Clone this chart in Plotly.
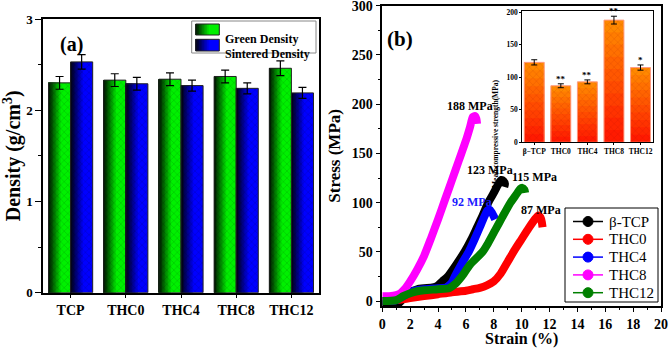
import plotly.graph_objects as go

# ---------------- data: panel (a) ----------------
samples = ["TCP", "THC0", "THC4", "THC8", "THC12"]
green_density = [2.30, 2.33, 2.34, 2.37, 2.46]
green_err = [0.07, 0.07, 0.07, 0.07, 0.08]
sintered_density = [2.53, 2.29, 2.27, 2.24, 2.19]
sintered_err = [0.08, 0.07, 0.06, 0.06, 0.06]

# ---------------- data: panel (b) stress-strain ----------------
tcp_strain = [0.0, 0.6, 1.2, 1.6, 2.0, 2.5, 3.0, 3.5, 3.9, 4.3, 4.7, 5.3, 5.9, 6.4, 6.8, 7.2, 7.6, 8.0, 8.3, 8.55, 8.7, 8.8, 8.75]
tcp_stress = [-1, -2, -2, 4, 9, 12, 13, 13.5, 15, 20, 25, 37, 50, 63, 75, 87, 100, 110, 118, 123, 122, 119, 116]

thc0_strain = [0, 1, 2, 3, 4, 5, 6, 6.5, 7, 7.5, 8, 8.5, 9, 9.5, 10, 10.5, 11.0, 11.2, 11.35, 11.45, 11.5]
thc0_stress = [0, 1, 3, 5, 7, 9, 10.5, 12, 13.5, 16, 20, 28, 40, 52, 63, 74, 84, 87, 85, 80, 75]

thc4_strain = [0, 1.0, 1.5, 2.0, 2.5, 3.0, 4.0, 4.6, 5.0, 5.2, 5.7, 6.2, 6.6, 7.0, 7.3, 7.55, 7.7, 7.85, 8.0, 8.1]
thc4_stress = [0, 1, 5, 9, 11, 12, 13, 14, 19, 25, 38, 50, 62, 75, 85, 92, 93, 90, 86, 83]

thc8_strain = [0, 0.5, 1.0, 1.3, 1.6, 2.0, 2.5, 3.0, 3.5, 4.0, 4.5, 5.0, 5.5, 6.0, 6.3, 6.5, 6.65, 6.75, 6.8]
thc8_stress = [5, 5, 6, 8, 12, 20, 32, 46, 64, 83, 103, 123, 143, 163, 177, 187, 188, 185, 180]

thc12_strain = [0, 1.0, 1.5, 2.0, 2.5, 3.0, 4.0, 4.8, 5.2, 5.7, 6.3, 7.2, 7.6, 8.1, 8.6, 9.2, 9.6, 9.9, 10.05, 10.2, 10.25]
thc12_stress = [0, 1, 5, 8, 10, 11, 12, 13, 17, 25, 37, 50, 59, 72, 85, 100, 108, 114, 115, 113, 110]

curve_names = ["β-TCP", "THC0", "THC4", "THC8", "THC12"]
curve_colors = ["#000000", "#FF0000", "#0000FF", "#FF00FF", "#008000"]
peak_labels = ["123 MPa", "87 MPa", "92 MPa", "188 MPa", "115 MPa"]
peak_label_x = [7.75, 11.4, 6.45, 6.3, 10.95]
peak_label_y = [133, 93, 101, 198, 126]
peak_label_colors = ["#000000", "#000000", "#1A1AFF", "#000000", "#000000"]

# ---------------- data: inset ----------------
inset_labels = ["β−TCP", "THC0", "THC4", "THC8", "THC12"]
inset_strength = [123, 87, 93, 188, 115]
inset_err = [4, 3, 3, 6, 4]
inset_sig = ["", "**", "**", "**", "*"]

FONT = "Liberation Serif"
W, H = 669, 348


def X(px):
    return px / W


def Y(py):
    return 1 - py / H


def hex2rgb(h):
    h = h.lstrip("#")
    return tuple(int(h[i:i + 2], 16) for i in (0, 2, 4))


def mix(c1, c2, t):
    a, b = hex2rgb(c1), hex2rgb(c2)
    return "rgb(%d,%d,%d)" % tuple(round(a[i] + (b[i] - a[i]) * t) for i in range(3))


fig = go.Figure()

# ---------------- panel (a) bars with horizontal gradient ----------------
N = 8
for vals, errs, off, bright, dark in [
    (green_density, green_err, -0.4, "#00F000", "#002000"),
    (sintered_density, sintered_err, 0.0, "#0000FF", "#00001E"),
]:
    fig.add_trace(go.Bar(x=samples, y=vals, offset=off, width=0.4, marker=dict(color=bright, line=dict(width=0)),
                         xaxis="x", yaxis="y", showlegend=False, hoverinfo="skip"))
    for i in range(N):
        f = 0.55 * (1 - i / N)
        fig.add_trace(go.Bar(x=samples, y=vals, offset=off, width=0.4 * f,
                             marker=dict(color=mix(bright, dark, (i + 1) / N), line=dict(width=0)),
                             xaxis="x", yaxis="y", showlegend=False, hoverinfo="skip"))
    fig.add_trace(go.Bar(x=samples, y=vals, offset=off, width=0.4,
                         marker=dict(color="rgba(0,0,0,0)", line=dict(color="#222222", width=1),
                                     pattern=dict(shape="x", fgcolor="rgba(0,0,0,0.35)", size=5, solidity=0.12)),
                         error_y=dict(type="data", array=errs, color="#000000", thickness=1.2, width=4),
                         xaxis="x", yaxis="y", showlegend=False, hoverinfo="skip"))

# ---------------- panel (b) curves ----------------
curves = [(tcp_strain, tcp_stress), (thc0_strain, thc0_stress), (thc4_strain, thc4_stress),
          (thc8_strain, thc8_stress), (thc12_strain, thc12_stress)]
for (sx, sy), name, col in zip(curves, curve_names, curve_colors):
    fig.add_trace(go.Scatter(x=sx, y=sy, mode="lines", name=name,
                             line=dict(color=col, width=8, shape="spline", smoothing=0.6),
                             xaxis="x2", yaxis="y2", showlegend=False, hoverinfo="skip"))

# ---------------- inset bars with vertical gradient ----------------
M = 10
top_col, bot_col = "#FF8800", "#FF1A00"
for j in range(M):
    frac = 1 - j / M
    fig.add_trace(go.Bar(x=inset_labels, y=[v * frac for v in inset_strength], width=0.75,
                         marker=dict(color=mix(top_col, bot_col, j / (M - 1)), line=dict(width=0)),
                         xaxis="x3", yaxis="y3", showlegend=False, hoverinfo="skip"))
fig.add_trace(go.Bar(x=inset_labels, y=inset_strength, width=0.75,
                     marker=dict(color="rgba(0,0,0,0)", line=dict(color="#FF9A80", width=1),
                                 pattern=dict(shape="x", fgcolor="rgba(140,0,0,0.3)", size=5, solidity=0.12)),
                     error_y=dict(type="data", array=inset_err, color="#000000", thickness=1, width=3),
                     xaxis="x3", yaxis="y3", showlegend=False, hoverinfo="skip"))

annotations = []
for lab, v, e, s in zip(inset_labels, inset_strength, inset_err, inset_sig):
    if s:
        annotations.append(dict(x=lab, y=v + e, xref="x3", yref="y3", text=s, showarrow=False, yanchor="bottom",
                                yshift=-2, font=dict(family=FONT, size=9, color="#000", weight="bold")))

for t, xx, yy, c in zip(peak_labels, peak_label_x, peak_label_y, peak_label_colors):
    annotations.append(dict(x=xx, y=yy, xref="x2", yref="y2", text=t, showarrow=False,
                            font=dict(family=FONT, size=12, color=c, weight="bold")))

annotations += [
    dict(x=X(58), y=Y(31), xref="paper", yref="paper", text="(a)", showarrow=False,
         font=dict(family=FONT, size=20, color="#000", weight="bold")),
    dict(x=X(400), y=Y(25), xref="paper", yref="paper", text="(b)", showarrow=False,
         font=dict(family=FONT, size=21, color="#000", weight="bold")),
    dict(x=X(223), y=Y(29.5), xref="paper", yref="paper", text="Green Density", showarrow=False, xanchor="left",
         font=dict(family=FONT, size=12, color="#000", weight="bold")),
    dict(x=X(223), y=Y(45), xref="paper", yref="paper", text="Sintered Density", showarrow=False, xanchor="left",
         font=dict(family=FONT, size=12, color="#000", weight="bold")),
    dict(x=X(502), y=Y(77), xref="paper", yref="paper", text="Mean compressive strength(MPa)", showarrow=False,
         textangle=-90, font=dict(family=FONT, size=7.5, color="#000", weight="bold")),
]

# manual legend for panel (a)
shapes = [dict(type="rect", xref="paper", yref="paper", x0=X(191.7), x1=X(316), y0=Y(53), y1=Y(21),
               line=dict(color="#888888", width=1), fillcolor="white")]
for (y0, y1, bright, dark) in [(24, 35, "#00F000", "#002000"), (39.3, 51, "#0000FF", "#00001E")]:
    x0, x1 = 195.7, 219.3
    shapes.append(dict(type="rect", xref="paper", yref="paper", x0=X(x0), x1=X(x1), y0=Y(y1), y1=Y(y0),
                       line=dict(width=0), fillcolor=bright))
    for i in range(N):
        f = 0.55 * (1 - i / N)
        shapes.append(dict(type="rect", xref="paper", yref="paper", x0=X(x0), x1=X(x0 + (x1 - x0) * f),
                           y0=Y(y1), y1=Y(y0), line=dict(width=0), fillcolor=mix(bright, dark, (i + 1) / N)))
    shapes.append(dict(type="rect", xref="paper", yref="paper", x0=X(x0), x1=X(x1), y0=Y(y1), y1=Y(y0),
                       line=dict(color="#222", width=1), fillcolor="rgba(0,0,0,0)"))

# manual legend for panel (b)
shapes.append(dict(type="rect", xref="paper", yref="paper", x0=X(565), x1=X(658), y0=Y(302), y1=Y(208),
                   line=dict(color="#000", width=1), fillcolor="white"))
for i, (name, col) in enumerate(zip(curve_names, curve_colors)):
    yc = 221.5 + 17.8 * i
    shapes.append(dict(type="line", xref="paper", yref="paper", x0=X(573), x1=X(603), y0=Y(yc), y1=Y(yc),
                       line=dict(color=col, width=1.5)))
    shapes.append(dict(type="circle", xref="paper", yref="paper", x0=X(583), x1=X(593), y0=Y(yc + 5),
                       y1=Y(yc - 5), line=dict(color=col, width=1), fillcolor=col))
    annotations.append(dict(x=X(607), y=Y(yc), xref="paper", yref="paper", text=name, showarrow=False,
                            xanchor="left", yanchor="middle",
                            font=dict(family=FONT, size=15, color="#000")))

axis_common = dict(showline=True, linecolor="#000", mirror=True, showgrid=False, zeroline=False,
                   ticks="outside", tickcolor="#000", automargin=False, ticklabeloverflow="allow")
bold = lambda s: dict(family=FONT, size=s, color="#000", weight="bold")

fig.update_layout(
    width=W, height=H, template="none", barmode="overlay", showlegend=False,
    margin=dict(l=0, r=0, t=0, b=0),
    paper_bgcolor="white", plot_bgcolor="white",
    font=dict(family=FONT, color="#000"),
    xaxis=dict(axis_common, domain=[X(43), X(319)], anchor="y", type="category", range=[-0.5, 4.5],
               linewidth=1.5, ticklen=4, tickfont=bold(14)),
    yaxis=dict(axis_common, domain=[Y(292.7), Y(19)], anchor="x", range=[0, 3], dtick=1, linewidth=1.5,
               ticklen=6, tickfont=bold(13),
               minor=dict(ticks="outside", dtick=0.5, ticklen=3, tickcolor="#000"),
               title=dict(text="Density (g/cm<sup>3</sup>)", font=bold(20), standoff=8)),
    xaxis2=dict(axis_common, domain=[X(382.3), X(661)], anchor="y2", range=[0, 20], dtick=2, linewidth=1.5,
                ticklen=4, tickfont=bold(14),
                minor=dict(ticks="outside", dtick=1, ticklen=2, tickcolor="#000"),
                title=dict(text="Strain (%)", font=bold(16), standoff=6)),
    yaxis2=dict(axis_common, domain=[Y(306), Y(5.7)], anchor="x2", range=[-5, 300], dtick=50, linewidth=1.5,
                ticklen=5, tickfont=bold(14),
                minor=dict(ticks="outside", dtick=25, ticklen=3, tickcolor="#000"),
                title=dict(text="Stress (MPa)", font=bold(17), standoff=7)),
    xaxis3=dict(axis_common, domain=[X(522.3), X(653)], anchor="y3", type="category", range=[-0.45, 4.47],
                linewidth=1, ticklen=2, tickfont=bold(7.5)),
    yaxis3=dict(axis_common, domain=[Y(142.3), Y(10.5)], anchor="x3", range=[0, 202.8], dtick=50, linewidth=1,
                ticklen=2, tickfont=bold(7.5)),
    annotations=annotations,
    shapes=shapes,
)

fig.write_html("out.html", config={"displayModeBar": False},
               post_script="document.body.style.margin='0';document.body.style.padding='0';")
